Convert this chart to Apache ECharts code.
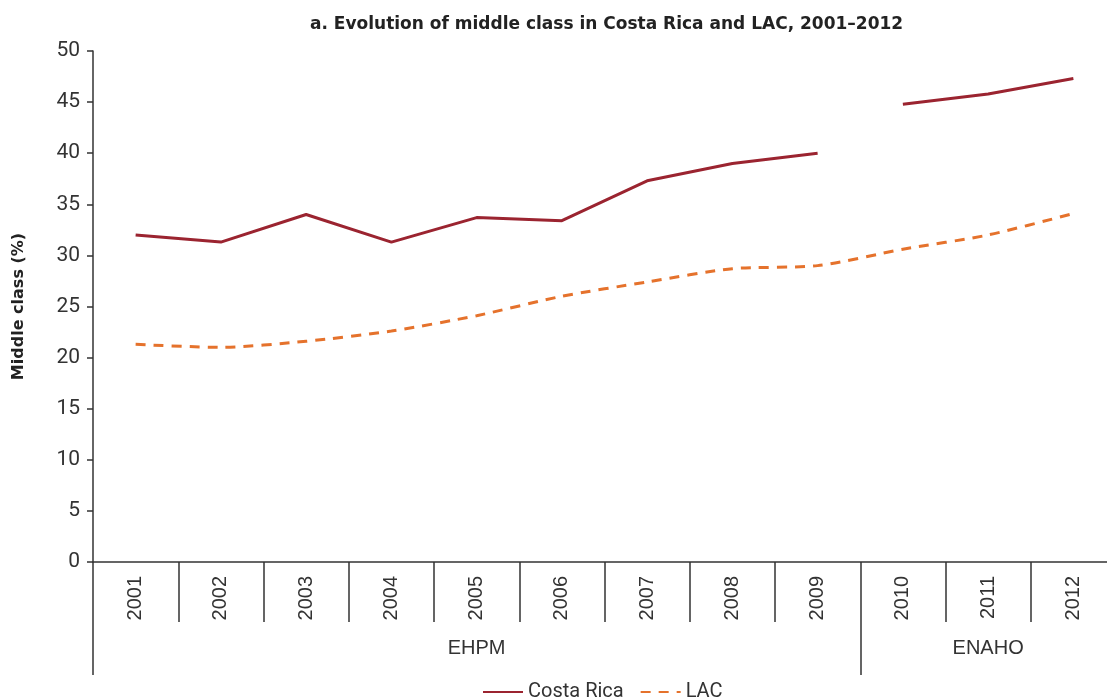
<!DOCTYPE html>
<html>
<head>
<meta charset="utf-8">
<script src="https://cdn.jsdelivr.net/npm/echarts@6/dist/echarts.min.js"></script>
<style>
  html, body { margin: 0; padding: 0; background: #fff; }
  #chart { width: 1107px; height: 700px; }
</style>
</head>
<body>
<div id="chart"></div>
<script>
var years = ['2001', '2002', '2003', '2004', '2005', '2006', '2007', '2008', '2009', '2010', '2011', '2012'];
var costaRicaEHPM = [32.0, 31.3, 34.0, 31.3, 33.7, 33.4, 37.3, 39.0, 40.0, null, null, null];
var costaRicaENAHO = [null, null, null, null, null, null, null, null, null, 44.8, 45.8, 47.3];
var lac = [21.3, 21.0, 21.6, 22.6, 24.1, 26.0, 27.4, 28.7, 29.0, 30.6, 32.0, 34.1];
var surveys = ['EHPM', 'ENAHO'];
var surveyBounds = [0, 9, 12];   // EHPM covers 2001-2009, ENAHO 2010-2012
var yTicks = [0, 5, 10, 15, 20, 25, 30, 35, 40, 45, 50];

var red = '#9b2430';
var orange = '#e5722c';
var axisColor = '#333';

var chart = echarts.init(document.getElementById('chart'));

var surveyCenters = [];
for (var i = 0; i < surveys.length; i++) {
  surveyCenters.push((surveyBounds[i] + surveyBounds[i + 1]) / 2);
}

chart.setOption({
  animation: false,
  textStyle: { fontFamily: 'Roboto' },
  title: {
    text: 'a. Evolution of middle class in Costa Rica and LAC, 2001–2012',
    left: 305,
    top: 11,
    textStyle: { fontSize: 17, fontWeight: 'bold', color: '#222', fontFamily: 'DejaVu Sans' }
  },
  legend: {
    bottom: -7,
    left: 477,
    itemWidth: 40,
    itemHeight: 12,
    itemGap: 16,
    itemStyle: { opacity: 0 },
    textStyle: { fontSize: 20, color: '#333' },
    data: ['Costa Rica', 'LAC']
  },
  grid: {
    left: 93,
    top: 51,
    width: 1023,
    height: 511,
    outerBoundsMode: 'none',
    containLabel: false
  },
  xAxis: [{
    type: 'category',
    data: years,
    boundaryGap: true,
    axisLine: { lineStyle: { color: axisColor, width: 1.5 } },
    axisTick: { show: true, interval: 0, length: 60, lineStyle: { color: axisColor, width: 1.5 } },
    axisLabel: {
      interval: 0,
      rotate: 90,
      margin: 14,
      fontSize: 20,
      color: '#333',
      fontFamily: 'Liberation Sans'
    },
    splitLine: { show: false }
  }, {
    type: 'value',
    position: 'bottom',
    min: 0,
    max: 12,
    axisLine: { show: false },
    axisTick: {
      show: true,
      length: 113,
      customValues: surveyBounds,
      lineStyle: { color: axisColor, width: 1.5 }
    },
    axisLabel: {
      margin: 76,
      fontSize: 20,
      color: '#333',
      fontFamily: 'Liberation Sans',
      customValues: surveyCenters,
      formatter: function (v) {
        var idx = surveyCenters.indexOf(v);
        return idx >= 0 ? surveys[idx] : '';
      }
    },
    splitLine: { show: false }
  }],
  yAxis: {
    type: 'value',
    min: 0,
    max: 50,
    interval: 5,
    name: 'Middle class (%)',
    nameLocation: 'middle',
    nameGap: 66,
    nameTextStyle: { fontSize: 16, fontWeight: 'bold', color: '#222', fontFamily: 'DejaVu Sans' },
    axisLine: { show: true, lineStyle: { color: axisColor, width: 1.5 } },
    axisTick: { show: true, length: 6, lineStyle: { color: axisColor, width: 1.5 } },
    axisLabel: {
      fontSize: 21,
      color: '#333',
      margin: 13,
      customValues: yTicks
    },
    splitLine: { show: false }
  },
  series: [{
    name: 'Costa Rica',
    type: 'line',
    data: costaRicaEHPM,
    symbol: 'none',
    connectNulls: false,
    lineStyle: { color: red, width: 3 },
    itemStyle: { color: red }
  }, {
    name: 'Costa Rica',
    type: 'line',
    data: costaRicaENAHO,
    symbol: 'none',
    connectNulls: false,
    lineStyle: { color: red, width: 3 },
    itemStyle: { color: red }
  }, {
    name: 'LAC',
    type: 'line',
    data: lac,
    symbol: 'none',
    smooth: 0.25,
    lineStyle: { color: orange, width: 3, type: [10, 8] },
    itemStyle: { color: orange }
  }]
});
</script>
</body>
</html>
